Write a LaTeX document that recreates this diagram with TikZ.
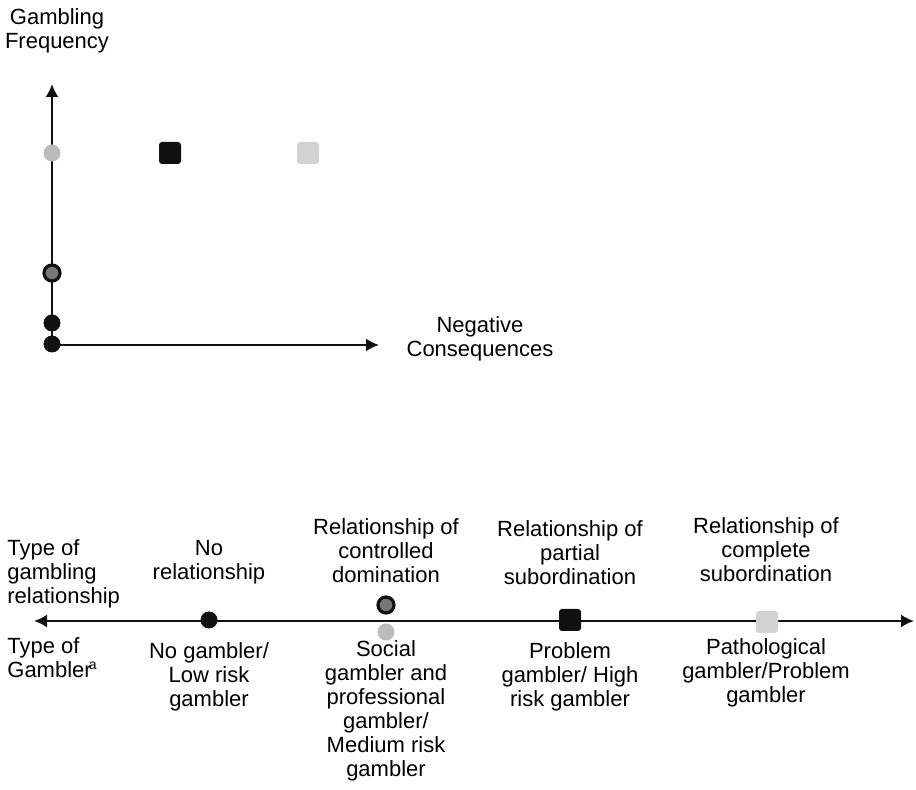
\documentclass[tikz,border=0pt]{standalone}
\usepackage{fontspec}
\setmainfont{Liberation Sans}
\usepackage{tikz}
\usetikzlibrary{arrows.meta,positioning,shapes}
\definecolor{lightdot}{HTML}{BBBBBB}
\definecolor{lightsq}{HTML}{D2D2D2}
\definecolor{darkfill}{HTML}{111111}
\definecolor{midgray}{HTML}{777777}
\tikzset{%
	blackdot/.style = {circle, fill=darkfill, minimum size=8.5pt, inner sep=0pt},
	graydot/.style  = {circle, fill=lightdot, minimum size=8.5pt, inner sep=0pt},
	ringdot/.style  = {circle, draw=darkfill, line width=1.6pt, fill=midgray, minimum size=8pt, inner sep=0pt},
	blacksq/.style  = {rectangle, rounded corners=1.5pt, fill=darkfill, minimum size=11pt, inner sep=0pt},
	graysq/.style   = {rectangle, rounded corners=1.5pt, fill=lightsq, minimum size=11pt, inner sep=0pt},
	lab/.style      = {align=center, inner sep=0pt, font=\fontsize{11}{12}\selectfont},
	leftlab/.style  = {align=left, inner sep=0pt, anchor=west, font=\fontsize{11}{12}\selectfont},
	axis/.style     = {line width=1pt, darkfill, -{Latex[length=6.5pt,width=6.5pt]}},
}

\begin{document}
\begin{tikzpicture}[x=0.5pt,y=-0.5pt]
	\useasboundingbox (0,0) rectangle (916,790);
	% upper plot
	\coordinate (o) at (52,345);
	\coordinate (ytop) at (52,84);
	\coordinate (xend) at (379,345);
	\draw[axis] (o) -- (ytop);
	\draw[axis] (o) -- (xend);
	\node[lab] (freq) at (57,31) {Gambling\\Frequency};
	\node[lab] (neg) at (480,339) {Negative\\Consequences};
	\node[graydot] (p1) at (52,153) {};
	\node[blacksq] (p2) at (170,153) {};
	\node[graysq] (p3) at (308,153) {};
	\node[ringdot] (p4) at (52,273) {};
	\node[blackdot] (p5) at (52,323) {};
	\node[blackdot] (p6) at (52,344) {};
	
	% lower scale
	\coordinate (l) at (34,621);
	\coordinate (r) at (914,621);
	\draw[axis,{Latex[length=6.5pt,width=6.5pt]}-{Latex[length=6.5pt,width=6.5pt]}] (l) -- (r);
	\node[leftlab] (typerel) at (7,574) {Type of\\gambling\\relationship};
	\node[leftlab] (typegam) at (7,658) {Type of\\Gambler\textsuperscript{\kern-1.5pt\scriptsize a}};
	\node[blackdot] (s1) at (209,620) {};
	\node[ringdot] (s2) at (386,605) {};
	\node[graydot] (s2b) at (386,632) {};
	\node[blacksq] (s3) at (570,620) {};
	\node[graysq] (s4) at (767,622) {};
	\node[lab] (r1) at (209,562) {No\\relationship};
	\node[lab] (r2) at (386,551) {Relationship of\\controlled\\domination};
	\node[lab] (r3) at (570,553) {Relationship of\\partial\\subordination};
	\node[lab] (r4) at (766,550) {Relationship of\\complete\\subordination};
	\node[lab] (g1) at (209,677) {No gambler/\\Low risk\\gambler};
	\node[lab] (g2) at (386,711) {Social\\gambler and\\professional\\gambler/\\Medium risk\\gambler};
	\node[lab] (g3) at (570,677) {Problem\\gambler/ High\\risk gambler};
	\node[lab] (g4) at (766,673) {Pathological\\gambler/Problem\\gambler};
\end{tikzpicture}
\end{document}
